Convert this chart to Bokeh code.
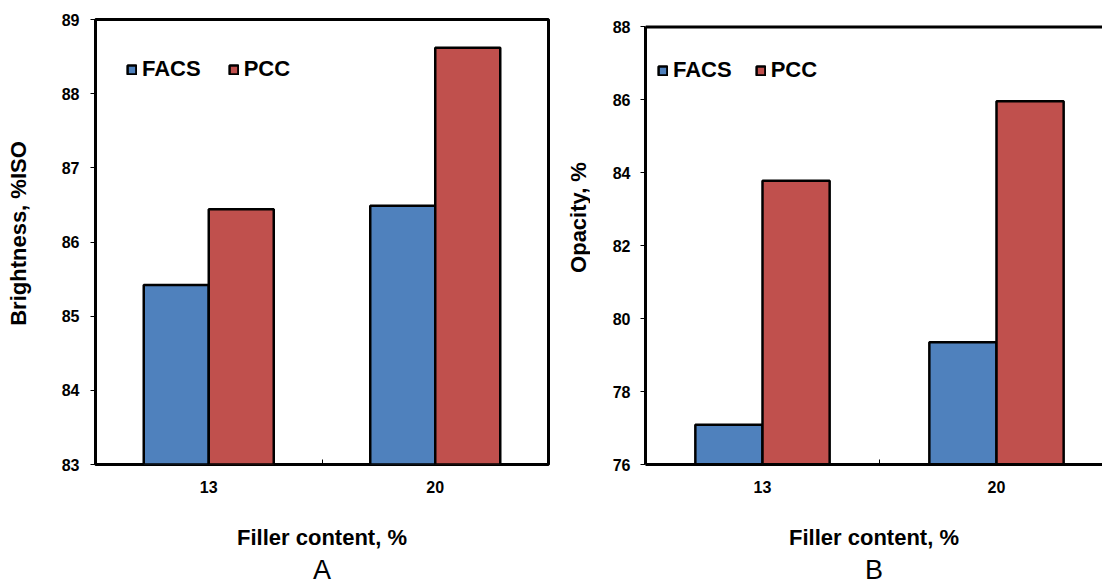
import math

from bokeh.plotting import figure
from bokeh.models import (ColumnDataSource, FixedTicker, Label, Legend,
                          LegendItem, Range1d, Span, Title)
from bokeh.layouts import row
from bokeh.transform import dodge
from bokeh.embed import file_html
from bokeh.resources import INLINE

# Filler content categories (%)
filler = ["13", "20"]

# Panel A: brightness, %ISO
brightness_facs = [85.42, 86.49]
brightness_pcc = [86.44, 88.62]
brightness_ticks = [83, 84, 85, 86, 87, 88, 89]

# Panel B: opacity, %
opacity_facs = [77.09, 79.35]
opacity_pcc = [83.78, 85.96]
opacity_ticks = [76, 78, 80, 82, 84, 86, 88]

FONT = "Liberation Sans"
BLUE = "#4F81BD"
RED = "#C0504D"
BAR_W = 0.287
HEIGHT = 584
FRAME_TOP = 19
FRAME_H = 446
FRAME_BOTTOM = HEIGHT - FRAME_TOP - FRAME_H


def title_strip(text, width, cx, cy):
    """Narrow strip carrying a rotated y-axis title."""
    t = figure(width=width, height=HEIGHT, x_range=Range1d(0, 1),
               y_range=Range1d(0, 1), output_backend="svg",
               toolbar_location=None, min_border_left=0, min_border_right=0,
               min_border_top=FRAME_TOP, min_border_bottom=FRAME_BOTTOM)
    t.axis.visible = False
    t.grid.visible = False
    t.outline_line_color = None
    t.add_layout(Label(x=cx, y=cy, x_units="screen", y_units="screen",
                       text=text, angle=math.pi / 2, text_align="center",
                       text_baseline="middle", text_font=FONT,
                       text_font_size="22px", text_font_style="bold",
                       text_color="black"))
    return t


def make_panel(facs, pcc, yticks, y_end, letter, width, x_end, border_left,
               border_right, legend_loc, legend_gap, y_label_standoff,
               closed_frame):
    pos = list(range(1, len(filler) + 1))
    src = ColumnDataSource(dict(pos=pos, facs=facs, pcc=pcc))

    p = figure(width=width, height=HEIGHT,
               x_range=Range1d(0.5, x_end),
               y_range=Range1d(yticks[0], y_end),
               output_backend="svg", toolbar_location=None,
               min_border_left=border_left, min_border_right=border_right,
               min_border_top=FRAME_TOP, min_border_bottom=FRAME_BOTTOM)
    p.xgrid.visible = False
    p.ygrid.visible = False
    p.background_fill_color = "white"
    p.border_fill_color = "white"

    r_facs = p.vbar(x=dodge("pos", -BAR_W / 2, range=p.x_range), top="facs",
                    bottom=yticks[0], width=BAR_W, source=src,
                    fill_color=BLUE, line_color="black", line_width=2.5)
    r_pcc = p.vbar(x=dodge("pos", BAR_W / 2, range=p.x_range), top="pcc",
                   bottom=yticks[0], width=BAR_W, source=src,
                   fill_color=RED, line_color="black", line_width=2.5)

    xa = p.below[0]
    ya = p.left[0]

    # frame
    if closed_frame:
        p.outline_line_color = "black"
        p.outline_line_width = 3
        xa.axis_line_color = None
        ya.axis_line_color = None
    else:
        p.outline_line_color = None
        xa.axis_line_width = 3
        xa.axis_line_color = "black"
        ya.axis_line_width = 3
        ya.axis_line_color = "black"
        ya.bounds = (yticks[0], yticks[-1])
        p.add_layout(Span(location=yticks[-1], dimension="width",
                          line_color="black", line_width=3))

    # x axis: category labels, inner tick between categories
    xa.ticker = FixedTicker(ticks=pos, minor_ticks=[1.5])
    xa.major_label_overrides = {i: lab for i, lab in zip(pos, filler)}
    xa.major_tick_line_color = None
    xa.minor_tick_in = 5
    xa.minor_tick_out = 0
    xa.minor_tick_line_color = "black"
    xa.minor_tick_line_width = 1
    xa.major_label_standoff = 10
    xa.axis_label = "Filler content, %"
    xa.axis_label_standoff = 29

    ya.ticker = FixedTicker(ticks=yticks)
    ya.major_tick_in = 0
    ya.major_tick_out = 5
    ya.major_tick_line_color = "black"
    ya.major_tick_line_width = 1
    ya.minor_tick_line_color = None
    ya.major_label_standoff = y_label_standoff

    for ax in (xa, ya):
        ax.major_label_text_font = FONT
        ax.major_label_text_font_size = "16px"
        ax.major_label_text_font_style = "bold"
        ax.major_label_text_color = "black"
        ax.axis_label_text_font = FONT
        ax.axis_label_text_font_size = "22px"
        ax.axis_label_text_font_style = "bold"
        ax.axis_label_text_color = "black"

    legend = Legend(items=[LegendItem(label="FACS", renderers=[r_facs]),
                           LegendItem(label="PCC", renderers=[r_pcc])],
                    location=legend_loc, orientation="horizontal",
                    background_fill_alpha=0, border_line_color=None,
                    padding=0, margin=0, spacing=legend_gap, label_standoff=5,
                    glyph_width=11, glyph_height=11,
                    label_text_font=FONT, label_text_font_size="22px",
                    label_text_font_style="bold", label_text_color="black")
    p.add_layout(legend)

    p.add_layout(Title(text=letter, align="center", text_font=FONT,
                       text_font_size="27px", text_font_style="normal",
                       text_color="black", standoff=0), "below")
    return p


ta = title_strip("Brightness, %ISO", 36, 18, 231)
pa = make_panel(brightness_facs, brightness_pcc, brightness_ticks, 89, "A",
                width=524, x_end=2.5, border_left=59, border_right=12,
                legend_loc=(31, 382), legend_gap=27, y_label_standoff=11,
                closed_frame=True)

tb = title_strip("Opacity, %", 30, 18, 247)
pb = make_panel(opacity_facs, opacity_pcc, opacity_ticks, 88 + 7.5 / 36.54,
                "B", width=512, x_end=0.5 + 457 / 234, border_left=55,
                border_right=0, legend_loc=(12, 381), legend_gap=23,
                y_label_standoff=10, closed_frame=False)

layout = row(ta, pa, tb, pb)
open("out.html", "w").write(file_html(layout, INLINE))
